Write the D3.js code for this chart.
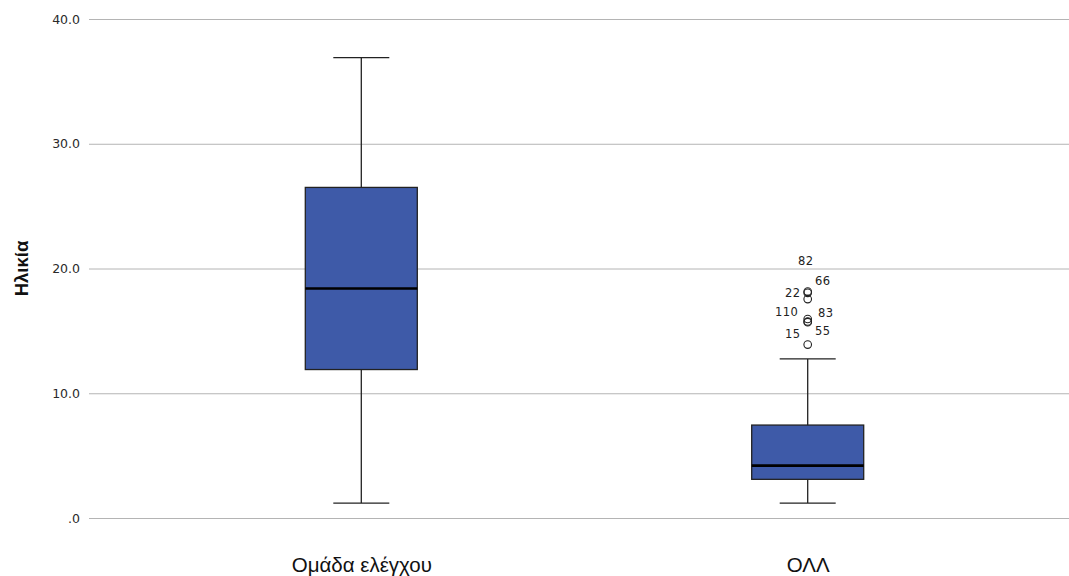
<!DOCTYPE html>
<html>
<head>
<meta charset="utf-8">
<script src="https://cdn.jsdelivr.net/npm/d3@7"></script>
<style>
body{margin:0;background:#fff;}
svg{display:block;}
</style>
</head>
<body>
<div id="plot"></div>
<script>
//Data
const groups = ['Ομάδα ελέγχου', 'ΟΛΛ'];
const whiskerLow = [1.2, 1.2];
const q1 = [11.9, 3.1];
const median = [18.4, 4.2];
const q3 = [26.5, 7.45];
const whiskerHigh = [36.9, 12.75];
const outlierIds = ['82', '66', '22', '110', '83', '15', '55'];
const outlierValues = [18.15, 18.05, 17.55, 15.95, 15.7, 13.9, 15.75];
const outlierGroup = ['ΟΛΛ', 'ΟΛΛ', 'ΟΛΛ', 'ΟΛΛ', 'ΟΛΛ', 'ΟΛΛ', 'ΟΛΛ'];
const yTicks = [0, 10, 20, 30, 40];

//label offsets for outliers (text placement, like SPSS)
const labelOffsets = {
	'82': [-2, -31], '66': [15, -12], '22': [-15, -6], '110': [-21, -7],
	'83': [18, -9], '15': [-15, -11], '55': [15, 9.5]
};

const w = 1069, h = 576;
const mLeft = 89, mRight = 1069, mTop = 19, mBottom = 518;

const svg = d3.select('#plot').append('svg').attr('width', w).attr('height', h);

const y = d3.scaleLinear().domain([0, 40]).range([mBottom, mTop]);
const x = d3.scalePoint().domain(groups).range([mLeft, 1080]).padding(0.61);

//gridlines + tick labels
const yAxis = d3.axisLeft(y).tickValues(yTicks)
	.tickSize(-(mRight - mLeft))
	.tickPadding(9)
	.tickFormat(d => d === 0 ? '.0' : d3.format('.1f')(d));
const gy = svg.append('g').attr('transform', `translate(${mLeft},0)`).call(yAxis);
gy.select('.domain').remove();
gy.selectAll('.tick line').attr('stroke', '#b4b4b4').attr('stroke-width', 1);
gy.selectAll('.tick text')
	.attr('font-family', 'DejaVu Sans, sans-serif')
	.attr('font-size', 12.5)
	.attr('fill', '#2a2a2a');

//x axis labels
const xAxis = d3.axisBottom(x).tickSize(0).tickPadding(39);
const gx = svg.append('g').attr('transform', `translate(0,${mBottom})`).call(xAxis);
gx.select('.domain').remove();
gx.selectAll('.tick text')
	.attr('font-family', 'Liberation Sans, Arial, sans-serif')
	.attr('font-size', 20.5)
	.attr('fill', '#111');

//y title
svg.append('text')
	.attr('transform', `translate(28,${(mTop + mBottom) / 2}) rotate(-90)`)
	.attr('text-anchor', 'middle')
	.attr('font-family', 'Liberation Sans, Arial, sans-serif')
	.attr('font-weight', 'bold')
	.attr('font-size', 18.5)
	.attr('fill', '#111')
	.text('Ηλικία');

const boxW = 112, capW = 56;
const boxData = groups.map((g, i) => ({
	g, lo: whiskerLow[i], q1: q1[i], med: median[i], q3: q3[i], hi: whiskerHigh[i]
}));

const boxes = svg.selectAll('.box').data(boxData).enter()
	.append('g').attr('class', 'box')
	.attr('transform', d => `translate(${x(d.g)},0)`);

boxes.append('line')
	.attr('x1', 0).attr('x2', 0)
	.attr('y1', d => y(d.hi)).attr('y2', d => y(d.lo))
	.attr('stroke', '#222').attr('stroke-width', 1.3);
boxes.selectAll('.cap').data(d => [d.hi, d.lo]).enter()
	.append('line').attr('class', 'cap')
	.attr('x1', -capW / 2).attr('x2', capW / 2)
	.attr('y1', d => y(d)).attr('y2', d => y(d))
	.attr('stroke', '#222').attr('stroke-width', 1.3);
boxes.append('rect')
	.attr('x', -boxW / 2).attr('width', boxW)
	.attr('y', d => y(d.q3)).attr('height', d => y(d.q1) - y(d.q3))
	.attr('fill', '#3e5aa8')
	.attr('stroke', '#222').attr('stroke-width', 1.3);
boxes.append('line')
	.attr('x1', -boxW / 2).attr('x2', boxW / 2)
	.attr('y1', d => y(d.med)).attr('y2', d => y(d.med))
	.attr('stroke', '#000').attr('stroke-width', 2.6);

//outliers
const outliers = outlierIds.map((id, i) => ({id, v: outlierValues[i], g: outlierGroup[i]}));
svg.selectAll('.outlier').data(outliers).enter()
	.append('circle').attr('class', 'outlier')
	.attr('cx', d => x(d.g)).attr('cy', d => y(d.v))
	.attr('r', 3.8)
	.attr('fill', 'none').attr('stroke', '#222').attr('stroke-width', 1.1);
svg.selectAll('.olabel').data(outliers).enter()
	.append('text').attr('class', 'olabel')
	.attr('x', d => x(d.g) + labelOffsets[d.id][0])
	.attr('y', d => y(d.v) + labelOffsets[d.id][1])
	.attr('dy', '0.35em')
	.attr('text-anchor', 'middle')
	.attr('font-family', 'DejaVu Sans, sans-serif')
	.attr('font-size', 11.5)
	.attr('letter-spacing', 0.4)
	.attr('fill', '#222')
	.text(d => d.id);
</script>
</body>
</html>
